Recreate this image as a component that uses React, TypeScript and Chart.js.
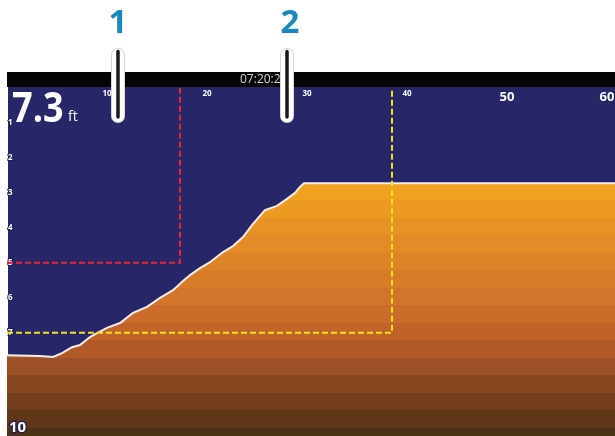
import React, { useEffect, useRef } from "react";
import { Chart, registerables } from "chart.js";

Chart.register(...registerables);

// ---- data ----
const BOTTOM_DISTANCE = [0, 3.3, 4.6, 5.5, 6.5, 7.3, 8.3, 9.0, 10.0, 11.3, 12.6, 14.0, 15.3, 16.6, 17.6, 18.3, 19.3, 20.3, 21.6, 22.6, 23.6, 24.5, 25.1, 25.8, 27.0, 28.0, 28.8, 29.3, 29.7, 60.8];
const BOTTOM_DEPTH = [7.64, 7.66, 7.69, 7.58, 7.41, 7.35, 7.12, 7.01, 6.86, 6.72, 6.43, 6.26, 6.0, 5.78, 5.52, 5.35, 5.15, 4.98, 4.69, 4.52, 4.26, 3.92, 3.72, 3.49, 3.37, 3.17, 3.0, 2.83, 2.72, 2.72];

const RED_ZONE_X = [0, 17.3, 17.3];
const RED_ZONE_DEPTH = [5, 5, 0];
const YELLOW_ZONE_X = [0, 38.5, 38.5];
const YELLOW_ZONE_DEPTH = [7, 7, 0];

const RANGE_TICKS = [10, 20, 30, 40, 50, 60];
const DEPTH_TICKS = [1, 2, 3, 4, 5, 6, 7, 8, 9];
const BOTTOM_DEPTH_LABEL = "10";
const DEPTH_READOUT = "7.3";
const DEPTH_UNIT = "ft";
const TIME_LABEL = "07:20:20";
const CALLOUT_LABELS = ["1", "2"];
const CALLOUT_X = [11.1, 28.0];

const X_MAX = 60.8;
const DEPTH_MAX = 9.95;

// ---- style ----
const W = 615;
const H = 436;
const BLUE = "#262669";
const GRAD_Y = [183, 215, 250, 290, 325, 350, 375, 400, 420, 436];
const GRAD_C = ["#f3a51f", "#ea9723", "#e08928", "#d5772a", "#c6672a", "#b05a28", "#934b23", "#77401e", "#5f3619", "#4a3015"];

function hexToRgb(h: string) {
  const n = parseInt(h.slice(1), 16);
  return [(n >> 16) & 255, (n >> 8) & 255, n & 255];
}
function colorAt(y: number) {
  if (y <= GRAD_Y[0]) return GRAD_C[0];
  for (let i = 1; i < GRAD_Y.length; i++) {
    if (y <= GRAD_Y[i]) {
      const t = (y - GRAD_Y[i - 1]) / (GRAD_Y[i] - GRAD_Y[i - 1]);
      const a = hexToRgb(GRAD_C[i - 1]);
      const b = hexToRgb(GRAD_C[i]);
      const c = a.map((v, k) => Math.round(v + (b[k] - v) * t));
      return `rgb(${c[0]},${c[1]},${c[2]})`;
    }
  }
  return GRAD_C[GRAD_C.length - 1];
}

let cachedGradient: CanvasGradient | null = null;
function bandGradient(ctx2d: CanvasRenderingContext2D) {
  if (cachedGradient) return cachedGradient;
  const g = ctx2d.createLinearGradient(0, 0, 0, H);
  const step = 17.5;
  let y0 = 183 - step * 11;
  while (y0 < H) {
    const c = colorAt(y0 + step / 2);
    const a = Math.max(0, Math.min(1, y0 / H));
    const b = Math.max(0, Math.min(1, (y0 + step) / H - 0.0001));
    g.addColorStop(a, c);
    g.addColorStop(b, c);
    y0 += step;
  }
  cachedGradient = g;
  return g;
}

const sonarPlugin = {
  id: "sonarDecor",
  beforeDraw(chart: any) {
    const { ctx } = chart;
    ctx.save();
    ctx.fillStyle = "#ffffff";
    ctx.fillRect(0, 0, W, H);
    ctx.fillStyle = "#050505";
    ctx.fillRect(7, 72, W - 7, 16);
    ctx.fillStyle = BLUE;
    ctx.fillRect(7, 87, W - 7, H - 87);
    ctx.fillStyle = "#d4d4d4";
    ctx.font = "12px 'Open Sans', sans-serif";
    ctx.textBaseline = "middle";
    ctx.textAlign = "left";
    ctx.fillText(TIME_LABEL, 240, 80);
    ctx.restore();
  },
  afterDraw(chart: any) {
    const { ctx } = chart;
    const xs = chart.scales.x;
    ctx.save();
    // depth readout
    ctx.fillStyle = "#ffffff";
    ctx.textBaseline = "alphabetic";
    ctx.textAlign = "left";
    ctx.save();
    ctx.translate(12, 122);
    ctx.scale(0.86, 1);
    ctx.font = "bold 42px 'Open Sans', sans-serif";
    ctx.fillText(DEPTH_READOUT, 0, 0);
    ctx.restore();
    ctx.font = "14px 'Open Sans', sans-serif";
    ctx.fillText(DEPTH_UNIT, 68, 121);
    // bottom depth label
    ctx.font = "bold 15px 'Open Sans', sans-serif";
    ctx.lineWidth = 2.5;
    ctx.strokeStyle = "#1e1e50";
    ctx.strokeText(BOTTOM_DEPTH_LABEL, 9, 432);
    ctx.fillText(BOTTOM_DEPTH_LABEL, 9, 432);
    // callouts
    CALLOUT_LABELS.forEach((lab, i) => {
      const px = xs.getPixelForValue(CALLOUT_X[i]);
      ctx.lineCap = "round";
      ctx.strokeStyle = "#d8d8d8";
      ctx.lineWidth = 14;
      ctx.beginPath();
      ctx.moveTo(px, 55);
      ctx.lineTo(px, 116);
      ctx.stroke();
      ctx.strokeStyle = "#ffffff";
      ctx.lineWidth = 12;
      ctx.beginPath();
      ctx.moveTo(px, 55);
      ctx.lineTo(px, 116);
      ctx.stroke();
      ctx.strokeStyle = "#1a1a1a";
      ctx.lineWidth = 3.5;
      ctx.beginPath();
      ctx.moveTo(px, 51.5);
      ctx.lineTo(px, 117);
      ctx.stroke();
      ctx.fillStyle = "#1b87bf";
      ctx.font = "bold 33px 'Open Sans', sans-serif";
      ctx.textAlign = "center";
      ctx.fillText(lab, px + (i === 0 ? 0 : 3), 33);
    });
    ctx.restore();
  },
};

export default function App() {
  const ref = useRef<HTMLCanvasElement | null>(null);
  useEffect(() => {
    if (!ref.current) return;
    cachedGradient = null;
    const toPts = (xs: number[], ys: number[]) => xs.map((x, i) => ({ x, y: ys[i] }));
    const chart = new Chart(ref.current, {
      type: "line",
      data: {
        datasets: [
          {
            data: toPts(RED_ZONE_X, RED_ZONE_DEPTH),
            borderColor: "#e8242c",
            borderWidth: 2,
            borderDash: [6, 3],
            pointRadius: 0,
            fill: false,
            tension: 0,
          },
          {
            data: toPts(YELLOW_ZONE_X, YELLOW_ZONE_DEPTH),
            borderColor: "#f2e21a",
            borderWidth: 2,
            borderDash: [6, 3],
            pointRadius: 0,
            fill: false,
            tension: 0,
          },
          {
            data: toPts(BOTTOM_DISTANCE, BOTTOM_DEPTH),
            borderColor: "#f2eeea",
            borderWidth: 2,
            pointRadius: 0,
            tension: 0,
            fill: "start",
            backgroundColor: (c: any) => bandGradient(c.chart.ctx),
          },
        ],
      },
      options: {
        responsive: false,
        animation: false,
        devicePixelRatio: 1,
        layout: { padding: { left: 7, top: 88, right: 0, bottom: 0 } },
        plugins: { legend: { display: false }, tooltip: { enabled: false } },
        scales: {
          x: {
            type: "linear",
            position: "top",
            min: 0,
            max: X_MAX,
            grid: { display: false, drawTicks: false },
            border: { display: false },
            afterFit: (s: any) => {
              s.height = 0;
              s.paddingLeft = 0;
              s.paddingRight = 0;
            },
            afterBuildTicks: (s: any) => {
              s.ticks = RANGE_TICKS.map((v) => ({ value: v }));
            },
            ticks: {
              mirror: true,
              padding: 1,
              color: "#ffffff",
              maxRotation: 0,
              autoSkip: false,
              font: (c: any) => ({
                family: "'Open Sans', sans-serif",
                weight: "bold",
                size: c.tick && c.tick.value >= 50 ? 13 : 8,
              }),
            },
          },
          y: {
            type: "linear",
            position: "left",
            reverse: true,
            min: 0,
            max: DEPTH_MAX,
            z: 1,
            grid: { display: false, drawTicks: false },
            border: { display: true, color: "#ffffff", width: 2, dash: [2, 2] },
            afterFit: (s: any) => {
              s.width = 0;
              s.paddingTop = 0;
              s.paddingBottom = 0;
            },
            afterBuildTicks: (s: any) => {
              s.ticks = DEPTH_TICKS.map((v) => ({ value: v }));
            },
            ticks: {
              mirror: true,
              padding: 1,
              color: "#ffffff",
              textStrokeColor: "#1e1e50",
              textStrokeWidth: 2,
              autoSkip: false,
              font: { family: "'Open Sans', sans-serif", weight: "bold", size: 8 },
            },
          },
        },
      },
      plugins: [sonarPlugin],
    } as any);
    return () => chart.destroy();
  }, []);

  return (
    <div style={{ position: "fixed", left: 0, top: 0, width: W, height: H, background: "#fff" }}>
      <canvas ref={ref} width={W} height={H} style={{ display: "block", width: W, height: H }} />
    </div>
  );
}
